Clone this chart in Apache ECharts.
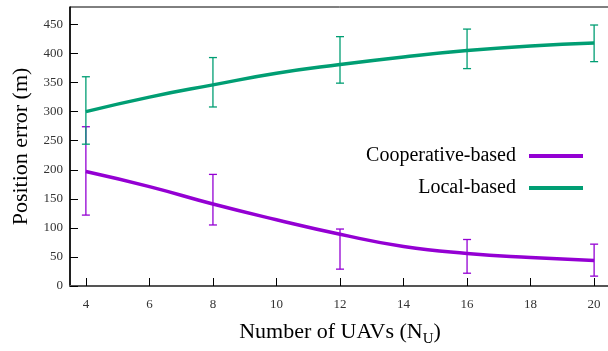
<!DOCTYPE html>
<html>
<head>
<meta charset="utf-8">
<script src="https://cdn.jsdelivr.net/npm/echarts@6/dist/echarts.min.js"></script>
<style>
  html, body { margin: 0; padding: 0; background: #fff; }
  #chart { width: 608px; height: 351px; }
</style>
</head>
<body>
<div id="chart"></div>
<script>
// Fitted curves (position error in metres vs. number of UAVs)
const curveX = [4, 6, 8, 10, 12, 14, 16, 18, 20];
const cooperativeCurve = [197, 171, 141, 114, 89, 68, 56, 49, 44];
const localCurve = [300, 325, 346, 366, 381, 394, 405, 413, 418];

// Measured spread at the simulated UAV counts: [N, low, high]
const barX = [4, 8, 12, 16, 20];
const cooperativeLow = [122, 105, 29, 22, 17];
const cooperativeHigh = [274, 192, 98, 80, 72];
const localLow = [244, 308, 349, 374, 386];
const localHigh = [360, 393, 429, 442, 449];

// Axis ticks
const xTicks = [4, 6, 8, 10, 12, 14, 16, 18, 20];
const yTicks = [0, 50, 100, 150, 200, 250, 300, 350, 400, 450];

const PURPLE = '#9400D3';
const GREEN = '#009E73';
const SERIF = '"Liberation Serif", "DejaVu Serif", serif';

const pairs = (xs, ys) => xs.map((x, i) => [x, ys[i]]);
const bars = (xs, lo, hi) => xs.map((x, i) => [x, lo[i], hi[i]]);

function errorBar(color) {
  return function (params, api) {
    const x = api.value(0);
    const top = api.coord([x, api.value(2)]);
    const bot = api.coord([x, api.value(1)]);
    const half = 4;
    const style = { stroke: color, lineWidth: 1.3, fill: null };
    return {
      type: 'group',
      children: [
        { type: 'line', shape: { x1: top[0], y1: top[1], x2: bot[0], y2: bot[1] }, style },
        { type: 'line', shape: { x1: top[0] - half, y1: top[1], x2: top[0] + half, y2: top[1] }, style },
        { type: 'line', shape: { x1: bot[0] - half, y1: bot[1], x2: bot[0] + half, y2: bot[1] }, style }
      ]
    };
  };
}

const legendCommon = {
  orient: 'vertical',
  align: 'right',
  right: 20,
  itemWidth: 54,
  itemHeight: 4,
  icon: 'rect',
  selectedMode: false,
  textStyle: { fontFamily: SERIF, fontSize: 20, color: '#000', padding: [0, 8, 0, 0] }
};

const chart = echarts.init(document.getElementById('chart'), null, { renderer: 'canvas' });
chart.setOption({
  animation: false,
  backgroundColor: '#fff',
  grid: {
    left: 70, top: 7, width: 540, height: 279,
    outerBoundsMode: 'none',
    containLabel: false,
    show: true, borderColor: '#000', borderWidth: 1, backgroundColor: 'transparent'
  },
  legend: [
    Object.assign({ top: 141, data: ['Cooperative-based'] }, legendCommon),
    Object.assign({ top: 173, data: ['Local-based'] }, legendCommon)
  ],
  xAxis: {
    type: 'value',
    min: 3.5,
    max: 20.5,
    name: '{a|Number of UAVs (N}{s|U}{a|)}',
    nameLocation: 'middle',
    nameGap: 31,
    nameTextStyle: {
      rich: {
        a: { fontFamily: SERIF, fontSize: 22, color: '#000', lineHeight: 30, verticalAlign: 'middle' },
        s: { fontFamily: SERIF, fontSize: 15, color: '#000', lineHeight: 15, verticalAlign: 'bottom' }
      }
    },
    axisLine: { show: true, onZero: false, lineStyle: { color: '#555', width: 2 } },
    axisTick: { show: true, inside: true, length: 8, customValues: xTicks, lineStyle: { color: '#000', width: 1 } },
    axisLabel: { customValues: xTicks, margin: 12, fontFamily: SERIF, fontSize: 13, color: '#333' },
    splitLine: { show: false }
  },
  yAxis: {
    type: 'value',
    min: 0,
    max: 480,
    name: 'Position error (m)',
    nameLocation: 'middle',
    nameGap: 36,
    nameTextStyle: { fontFamily: SERIF, fontSize: 22, color: '#000' },
    axisLine: { show: true, lineStyle: { color: '#000', width: 1.5 } },
    axisTick: { show: true, inside: true, length: 8, customValues: yTicks, lineStyle: { color: '#000', width: 1 } },
    axisLabel: { customValues: yTicks, margin: 7, fontFamily: SERIF, fontSize: 13, color: '#333' },
    splitLine: { show: false }
  },
  series: [
    {
      name: 'Cooperative-based',
      type: 'line',
      smooth: 0.5,
      showSymbol: false,
      color: PURPLE,
      lineStyle: { color: PURPLE, width: 3.5 },
      data: pairs(curveX, cooperativeCurve),
      z: 3
    },
    {
      name: 'Local-based',
      type: 'line',
      smooth: 0.5,
      showSymbol: false,
      color: GREEN,
      lineStyle: { color: GREEN, width: 3.5 },
      data: pairs(curveX, localCurve),
      z: 3
    },
    {
      name: 'cooperative-spread',
      type: 'custom',
      renderItem: errorBar(PURPLE),
      encode: { x: 0, y: [1, 2] },
      data: bars(barX, cooperativeLow, cooperativeHigh),
      z: 2
    },
    {
      name: 'local-spread',
      type: 'custom',
      renderItem: errorBar(GREEN),
      encode: { x: 0, y: [1, 2] },
      data: bars(barX, localLow, localHigh),
      z: 2
    }
  ]
});
</script>
</body>
</html>
